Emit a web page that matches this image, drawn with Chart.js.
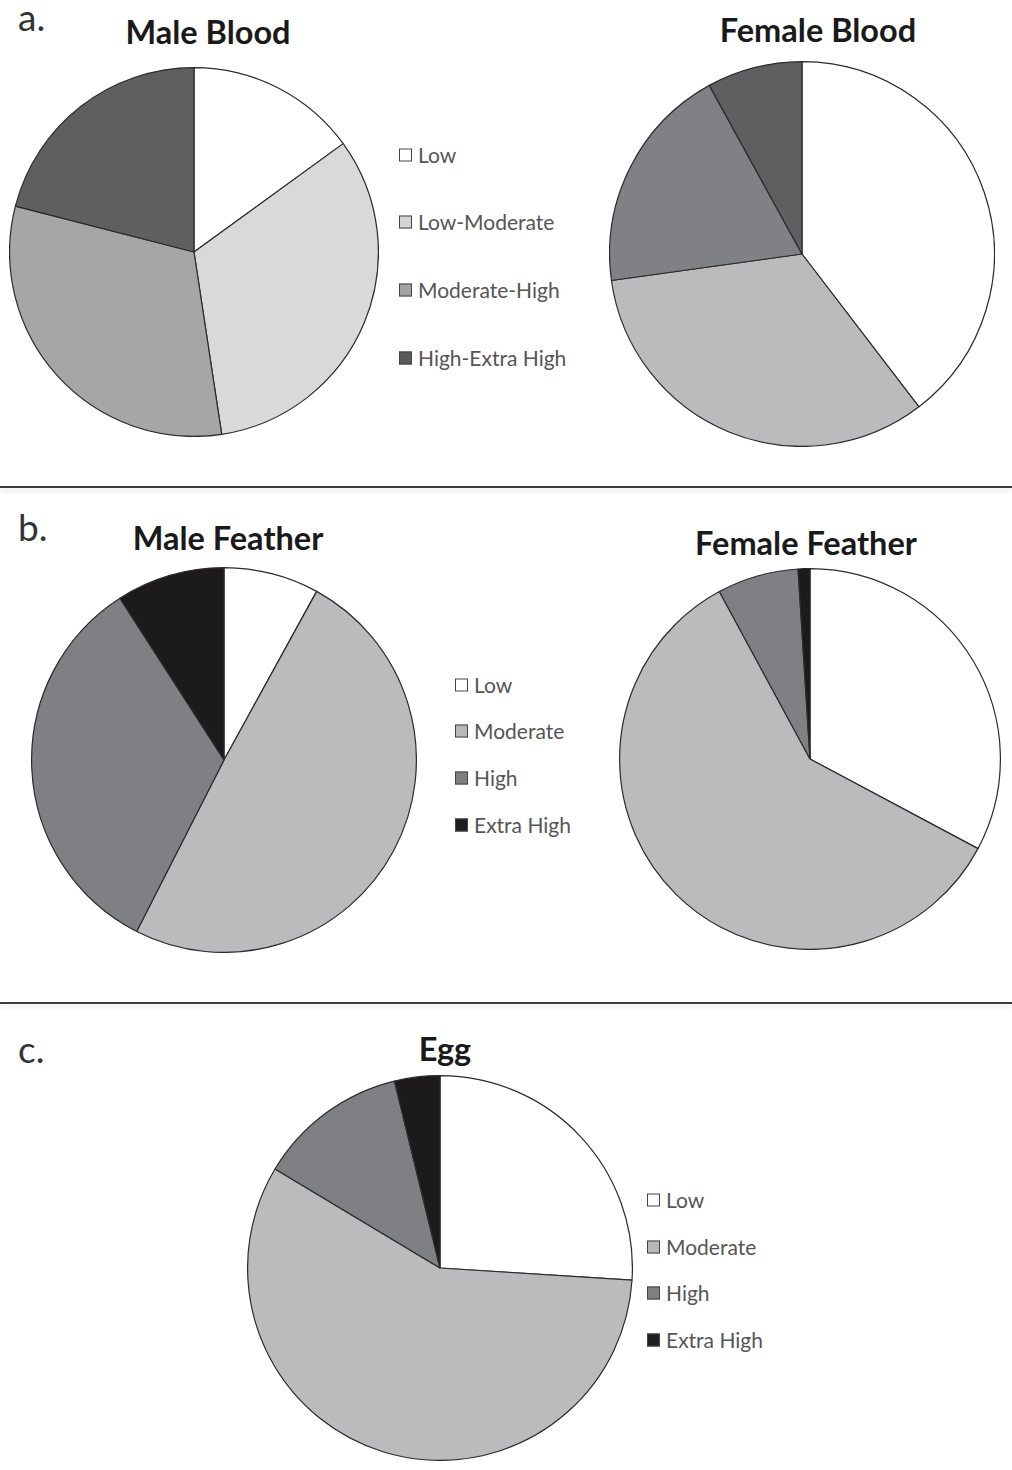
<!DOCTYPE html>
<html>
<head>
<meta charset="utf-8">
<script src="https://cdn.jsdelivr.net/npm/chart.js@4/dist/chart.umd.min.js"></script>
<style>
	body { margin: 0; width: 1012px; height: 1470px; background: #fff; position: relative; font-family: Lato, "Open Sans", sans-serif; overflow: hidden; }
	.box { position: absolute; }
	.title { position: absolute; font-weight: bold; font-size: 32.5px; color: #1a1a1a; transform: translate(-50%, -50%); white-space: nowrap; }
	.panel { position: absolute; font-size: 37px; color: #333; }
	.sep { position: absolute; left: 0; width: 1012px; height: 2px; background: #3a3a3a; box-shadow: 0 3px 4px #ddd; }
	.legend { position: absolute; font-size: 21px; color: #555; }
	.legend div { position: absolute; white-space: nowrap; transform: translateY(-50%); }
	.legend span { display: inline-block; width: 11px; height: 11px; border: 1px solid #444; margin-right: 6px; vertical-align: 1px; }
</style>
</head>
<body>
<div class="panel" style="left:18px;top:-6px;">a.</div>
<div class="panel" style="left:18px;top:504px;">b.</div>
<div class="panel" style="left:18px;top:1026px;">c.</div>
<div class="sep" style="top:486px;"></div>
<div class="sep" style="top:1002px;"></div>
<div id="root"></div>
<script>
// categories
const bloodLabels = ['Low', 'Low-Moderate', 'Moderate-High', 'High-Extra High'];
const featherLabels = ['Low', 'Moderate', 'High', 'Extra High'];

// percentages
const maleBlood = [15, 32.6, 31.4, 21];
const femaleBlood = [39.6, 33.2, 19.2, 8];
const maleFeather = [8, 49.5, 33.4, 9.1];
const femaleFeather = [32.8, 59.3, 6.9, 1];
const egg = [26, 57.6, 12.6, 3.8];

const maleBloodColors = ['#ffffff', '#d9d9d9', '#a6a6a6', '#5f5f5f'];
const femaleBloodColors = ['#ffffff', '#bbbbbe', '#808184', '#5f5f61'];
const featherColors = ['#ffffff', '#bbbbbe', '#7f8083', '#1c1a1b'];

const root = document.getElementById('root');

function makePie(title, labels, values, colors, cx, cy, r, tx, ty) {
	const box = document.createElement('div');
	box.className = 'box';
	const size = 2 * r + 2;
	box.style.left = (cx - size / 2) + 'px';
	box.style.top = (cy - size / 2) + 'px';
	box.style.width = size + 'px';
	box.style.height = size + 'px';
	const canvas = document.createElement('canvas');
	box.appendChild(canvas);
	root.appendChild(box);

	const t = document.createElement('div');
	t.className = 'title';
	t.textContent = title;
	t.style.left = tx + 'px';
	t.style.top = ty + 'px';
	root.appendChild(t);

	new Chart(canvas.getContext('2d'), {
		type: 'pie',
		data: {
			labels: labels,
			datasets: [{
				data: values,
				backgroundColor: colors,
				borderColor: '#2b2b2b',
				borderWidth: 1.2
			}]
		},
		options: {
			responsive: true,
			maintainAspectRatio: false,
			animation: false,
			plugins: {
				legend: { display: false },
				tooltip: { enabled: false }
			}
		}
	});
}

function makeLegend(labels, colors, x, rows) {
	const lg = document.createElement('div');
	lg.className = 'legend';
	lg.style.left = x + 'px';
	lg.style.top = '0px';
	labels.forEach((lab, i) => {
		const row = document.createElement('div');
		row.style.top = rows[i] + 'px';
		row.innerHTML = '<span style="background:' + colors[i] + '"></span>' + lab;
		lg.appendChild(row);
	});
	root.appendChild(lg);
}

makePie('Male Blood', bloodLabels, maleBlood, maleBloodColors, 194, 252, 184, 208, 31);
makePie('Female Blood', bloodLabels, femaleBlood, femaleBloodColors, 802, 254, 192, 818, 29);
makeLegend(bloodLabels, ['#ffffff', '#d4d4d4', '#a3a3a3', '#5a5a5a'], 399, [154, 221, 289, 357]);

makePie('Male Feather', featherLabels, maleFeather, featherColors, 224, 760, 192, 228, 537);
makePie('Female Feather', featherLabels, femaleFeather, featherColors, 810, 759, 190, 806, 542);
makeLegend(featherLabels, ['#ffffff', '#b8b8b8', '#7f7f7f', '#1e1e1e'], 455, [684, 730, 777, 824]);

makePie('Egg', featherLabels, egg, featherColors, 440, 1268, 192, 445, 1048);
makeLegend(featherLabels, ['#ffffff', '#b8b8b8', '#7f7f7f', '#1e1e1e'], 647, [1199, 1246, 1292, 1339]);
</script>
</body>
</html>
